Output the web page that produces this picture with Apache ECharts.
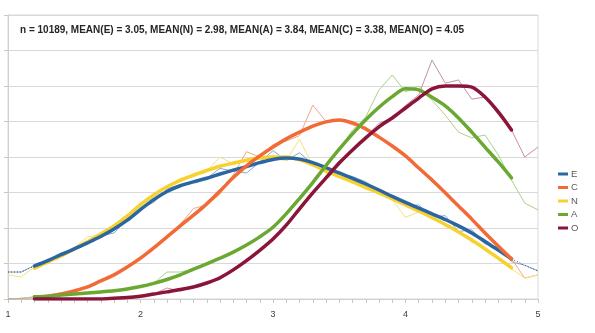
<!DOCTYPE html>
<html><head><meta charset="utf-8">
<script src="https://cdn.jsdelivr.net/npm/echarts@6/dist/echarts.min.js"></script>
<style>html,body{margin:0;padding:0;background:#fff}#c{width:595px;height:333px}</style>
</head><body><div id="c"></div>
<script>
const xs = [1.0,1.1,1.2,1.3,1.4,1.5,1.6,1.7,1.8,1.9,2.0,2.1,2.2,2.3,2.4,2.5,2.6,2.7,2.8,2.9,3.0,3.1,3.2,3.3,3.4,3.5,3.6,3.7,3.8,3.9,4.0,4.1,4.2,4.3,4.4,4.5,4.6,4.7,4.8,4.9,5.0];
const xTicks = ['1','2','3','4','5'];
const titleText = 'n = 10189, MEAN(E) = 3.05, MEAN(N) = 2.98, MEAN(A) = 3.84, MEAN(C) = 3.38, MEAN(O) = 4.05';
const names = ['E','C','N','A','O'];

// smoothed (thick) lines, 1.2 .. 4.8
const eSmooth = [null,null,0.93,1.08,1.25,1.41,1.58,1.76,1.97,2.22,2.52,2.80,3.03,3.19,3.30,3.40,3.52,3.63,3.73,3.84,3.93,3.97,3.94,3.84,3.70,3.55,3.40,3.24,3.07,2.89,2.72,2.56,2.40,2.24,2.06,1.86,1.62,1.38,1.13,null,null];
const nSmooth = [null,null,0.87,1.04,1.21,1.41,1.61,1.83,2.06,2.34,2.66,2.93,3.16,3.34,3.49,3.62,3.74,3.83,3.91,3.97,4.00,4.00,3.92,3.78,3.61,3.45,3.30,3.14,2.99,2.82,2.65,2.48,2.29,2.10,1.89,1.66,1.41,1.15,0.88,null,null];
const cSmooth = [null,null,0.06,0.08,0.14,0.23,0.34,0.51,0.68,0.90,1.15,1.44,1.75,2.06,2.36,2.68,3.04,3.42,3.75,4.03,4.28,4.51,4.70,4.87,4.99,5.04,4.96,4.79,4.56,4.31,4.03,3.69,3.35,2.99,2.62,2.25,1.86,1.49,1.13,null,null];
const aSmooth = [null,null,0.06,0.08,0.11,0.14,0.17,0.20,0.23,0.28,0.35,0.44,0.55,0.68,0.84,0.99,1.15,1.32,1.52,1.75,2.02,2.40,2.83,3.28,3.76,4.22,4.65,5.05,5.40,5.70,5.92,5.89,5.68,5.44,5.10,4.70,4.28,3.86,3.41,null,null];
const oSmooth = [null,null,0.00,0.00,0.00,0.00,0.00,0.00,0.02,0.04,0.08,0.14,0.20,0.27,0.34,0.45,0.60,0.82,1.08,1.37,1.69,2.08,2.54,2.99,3.41,3.83,4.20,4.54,4.85,5.10,5.38,5.66,5.92,6.00,6.00,5.97,5.69,5.27,4.76,null,null];

// raw (thin) lines, 1.0 .. 5.0
const eRaw = [0.76,0.76,0.95,1.03,1.30,1.40,1.60,1.78,1.86,2.25,2.55,2.72,3.10,3.22,3.28,3.40,3.68,3.60,3.55,3.85,4.18,3.90,4.12,3.80,3.72,3.52,3.45,3.30,3.05,2.90,2.62,2.65,2.30,2.35,1.90,1.95,1.55,1.45,1.05,0.95,0.79];
const nRaw = [0.68,0.62,0.90,1.10,1.20,1.45,1.75,1.80,2.05,2.35,2.70,2.90,3.15,3.40,3.45,3.60,4.00,3.80,3.88,4.00,3.95,3.90,4.50,3.75,3.55,3.45,3.30,3.15,2.95,2.80,2.30,2.45,2.30,2.05,1.90,1.60,1.42,1.10,0.85,0.59,0.68];
const cRaw = [0.00,0.02,0.06,0.08,0.14,0.23,0.34,0.50,0.70,0.90,1.15,1.48,1.72,2.10,2.55,2.65,2.95,3.50,4.15,4.00,4.35,4.45,4.60,5.46,5.00,5.05,4.90,4.85,4.55,4.30,4.00,3.70,3.30,3.00,2.60,2.25,1.85,1.50,1.13,0.59,0.68];
const aRaw = [0.00,0.02,0.06,0.08,0.11,0.14,0.17,0.20,0.23,0.28,0.35,0.44,0.76,0.76,0.84,0.99,1.15,1.32,1.52,1.75,2.02,2.40,2.83,3.28,3.76,4.22,4.76,5.13,5.89,6.31,5.83,6.00,5.60,5.18,4.70,4.54,4.62,4.06,3.35,2.70,2.51];
const oRaw = [0.00,0.00,0.00,0.00,0.00,0.00,0.00,0.00,0.02,0.04,0.08,0.14,0.31,0.22,0.34,0.45,0.55,0.85,1.10,1.38,1.69,2.08,2.54,2.99,3.41,3.90,4.15,4.55,4.95,5.10,5.45,5.75,6.73,6.08,6.17,5.63,5.69,5.20,4.76,4.00,4.28];
// dark dotted line visible at the ends
const eFit = [0.76,0.76,0.93,null,null,null,null,null,null,null,null,null,null,null,null,null,null,null,null,null,null,null,null,null,null,null,null,null,null,null,null,null,null,null,null,null,null,null,1.13,0.95,0.79];

const pairs = arr => xs.map((x,i) => [x, arr[i]]);
const thickC = {E:'#2c66a2', C:'#f26a36', N:'#f7d22e', A:'#6aa832', O:'#8a1538'};
const thinC = {E:'#7fabdb', C:'#f2a68a', N:'#f6e27c', A:'#aad08c', O:'#c690a2'};

function raw(name, arr){
  return {type:'line', name:name+'raw', data:pairs(arr), showSymbol:false, symbol:'none', silent:true,
    lineStyle:{color:thinC[name], width:1}, z:2};
}
function thick(name, arr, z){
  return {type:'line', name:name, data:pairs(arr), showSymbol:false, symbol:'none', smooth:0.3,
    connectNulls:false, lineStyle:{color:thickC[name], width:3.5, cap:'round'}, itemStyle:{color:thickC[name]}, z:z};
}

const chart = echarts.init(document.getElementById('c'), null, {renderer:'canvas'});
chart.setOption({
  animation:false,
  backgroundColor:'#fff',
  title:{text:titleText, left:15, top:20, textStyle:{fontFamily:'Liberation Sans', fontSize:10, fontWeight:'bold', color:'#262626'}},
  legend:{orient:'vertical', left:553, top:164, itemWidth:10, itemHeight:3, itemGap:3.5, icon:'rect',
    data:names, textStyle:{fontFamily:'Liberation Sans', fontSize:9.5, color:'#595959', padding:[0,0,0,-2]}},
  grid:{left:8, right:57, top:15, bottom:34, show:true, borderColor:'#d9d9d9', borderWidth:1},
  xAxis:{type:'value', min:1, max:5, interval:1,
    axisLine:{show:true, lineStyle:{color:'#d0d0d0'}},
    axisTick:{show:true, length:4, lineStyle:{color:'#c8c8c8'}},
    minorTick:{show:true, splitNumber:10, length:4, lineStyle:{color:'#c8c8c8'}},
    splitLine:{show:false},
    axisLabel:{fontFamily:'Liberation Sans', fontSize:9, color:'#404040', margin:11,
      formatter: v => xTicks[Math.round(v)-1]}},
  yAxis:{type:'value', min:0, max:8, interval:1,
    axisLine:{show:true, lineStyle:{color:'#d0d0d0'}},
    axisTick:{show:true, length:4, lineStyle:{color:'#c8c8c8'}},
    axisLabel:{show:false},
    splitLine:{lineStyle:{color:'#d9d9d9'}}},
  series:[
    raw('E', eRaw), raw('C', cRaw), raw('N', nRaw), raw('A', aRaw), raw('O', oRaw),
    {type:'line', name:'Efit', data:pairs(eFit), showSymbol:false, symbol:'none', silent:true, connectNulls:false,
      lineStyle:{color:'#3a4a66', width:1, type:[1,2]}, z:3},
    thick('N', nSmooth, 4), thick('E', eSmooth, 5), thick('C', cSmooth, 6), thick('A', aSmooth, 7), thick('O', oSmooth, 8)
  ]
});
</script></body></html>
